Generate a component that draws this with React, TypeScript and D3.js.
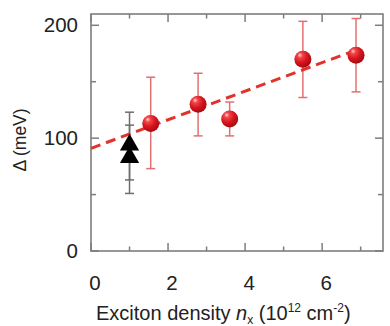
import React from "react";
import * as d3 from "d3";

const redX = [1.55, 2.78, 3.6, 5.5, 6.88];
const redY = [113, 130, 117, 170, 173.5];
const redLo = [73, 102, 102, 136, 141];
const redHi = [154, 157.5, 132, 203.5, 206];

const blackX = [1.0, 1.0];
const blackY = [94, 83];
const blackLo = [63, 51];
const blackHi = [123, 111.5];

const fitX = [0, 6.88];
const fitY = [91, 178];

const xMajor = [0, 2, 4, 6];
const xMinor = [1, 3, 5, 7];
const yMajor = [0, 100, 200];
const yMinor = [50, 150];

const W = 390, H = 326;
const L = 91, R = 383, T = 14, B = 251;

export default function App() {
  const x = d3.scaleLinear().domain([0, 7.58]).range([L, R]);
  const y = d3.scaleLinear().domain([0, 210]).range([B, T]);
  const line = d3.line<number>().x((_, i) => x(fitX[i])).y((d) => y(d));
  const axisCol = "#7d7d7d";
  const tri = d3.symbol().type(d3.symbolTriangle).size(160);
  const font = "Arial, 'Liberation Sans', Helvetica, sans-serif";
  return (
    <svg width={W} height={H} style={{ position: "absolute", left: 0, top: 0, background: "#fff" }} fontFamily={font}>
      <defs>
        <radialGradient id="ball" cx="38%" cy="32%" r="68%" fx="32%" fy="26%">
          <stop offset="0%" stopColor="#ffd2cc" />
          <stop offset="22%" stopColor="#f0474a" />
          <stop offset="60%" stopColor="#d8151e" />
          <stop offset="100%" stopColor="#a80a10" />
        </radialGradient>
      </defs>
      {/* frame */}
      <rect x={L} y={T} width={R - L} height={B - T} fill="none" stroke={axisCol} strokeWidth={1.6} />
      {/* x ticks */}
      {xMajor.concat(xMinor).map((v) => {
        const len = xMajor.includes(v) ? 8 : 4.5;
        return (
          <g key={"xt" + v}>
            <line x1={x(v)} x2={x(v)} y1={B} y2={B - len} stroke={axisCol} strokeWidth={1.5} />
            <line x1={x(v)} x2={x(v)} y1={T} y2={T + len} stroke={axisCol} strokeWidth={1.5} />
          </g>
        );
      })}
      {yMajor.concat(yMinor).map((v) => {
        const len = yMajor.includes(v) ? 8 : 5;
        return (
          <g key={"yt" + v}>
            <line x1={L} x2={L + len} y1={y(v)} y2={y(v)} stroke={axisCol} strokeWidth={1.5} />
            <line x1={R} x2={R - len} y1={y(v)} y2={y(v)} stroke={axisCol} strokeWidth={1.5} />
          </g>
        );
      })}
      {/* tick labels */}
      {xMajor.map((v) => (
        <text key={"xl" + v} x={x(v) + 4} y={290} fontSize={20.5} textAnchor="middle" fill="#222">
          {v}
        </text>
      ))}
      {yMajor.map((v) => (
        <text key={"yl" + v} x={78} y={y(v) + 7} fontSize={20.5} textAnchor="end" fill="#222">
          {v}
        </text>
      ))}
      {/* axis titles */}
      <text transform="translate(26,140) rotate(-90)" fontSize={17.5} textAnchor="middle" fill="#222">
        Δ (meV)
      </text>
      <text x={96} y={320} fontSize={20} fill="#222">
        Exciton density <tspan fontStyle="italic">n</tspan>
        <tspan fontSize={12} dy={4}>x</tspan>
        <tspan dy={-4}> (10</tspan>
        <tspan fontSize={12} dy={-8}>12</tspan>
        <tspan dy={8}> cm</tspan>
        <tspan fontSize={12} dy={-8}>-2</tspan>
        <tspan dy={8}>)</tspan>
      </text>
      {/* black error bars */}
      {blackX.map((v, i) => (
        <g key={"be" + i} stroke="#6d6d6d" strokeWidth={1.5}>
          <line x1={x(v)} x2={x(v)} y1={y(blackLo[i])} y2={y(blackHi[i])} />
          <line x1={x(v) - 4.5} x2={x(v) + 4.5} y1={y(blackLo[i])} y2={y(blackLo[i])} />
          <line x1={x(v) - 4.5} x2={x(v) + 4.5} y1={y(blackHi[i])} y2={y(blackHi[i])} />
        </g>
      ))}
      {/* red error bars */}
      {redX.map((v, i) => (
        <g key={"re" + i} stroke="#e27070" strokeWidth={1.5}>
          <line x1={x(v)} x2={x(v)} y1={y(redLo[i])} y2={y(redHi[i])} />
          <line x1={x(v) - 4.5} x2={x(v) + 4.5} y1={y(redLo[i])} y2={y(redLo[i])} />
          <line x1={x(v) - 4.5} x2={x(v) + 4.5} y1={y(redHi[i])} y2={y(redHi[i])} />
        </g>
      ))}
      {/* fit line */}
      <path d={line(fitY) || ""} fill="none" stroke="#e2322a" strokeWidth={3} strokeDasharray="10,6" />
      {/* black triangles */}
      {blackX.map((v, i) => (
        <path key={"bt" + i} d={tri() || ""} transform={`translate(${x(v)},${y(blackY[i])})`} fill="#000" />
      ))}
      {/* red balls */}
      {redX.map((v, i) => (
        <circle key={"rb" + i} cx={x(v)} cy={y(redY[i])} r={8.5} fill="url(#ball)" />
      ))}
    </svg>
  );
}
